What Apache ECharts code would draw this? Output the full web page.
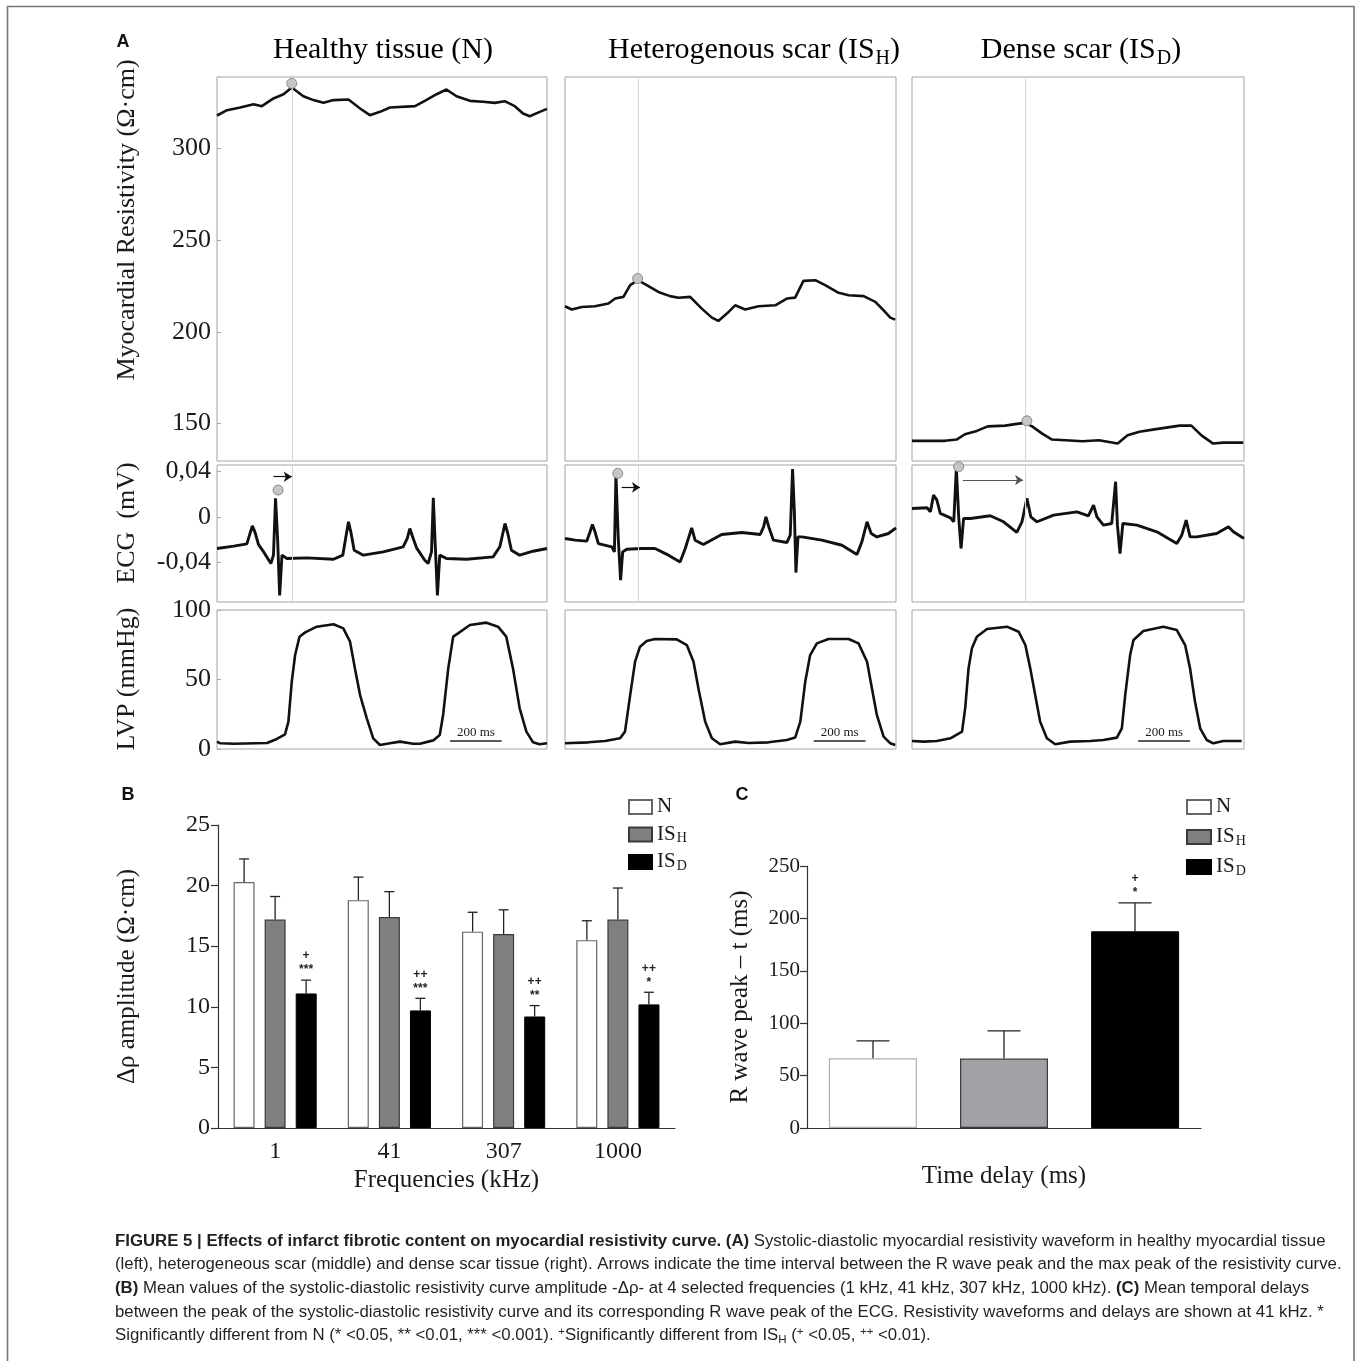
<!DOCTYPE html>
<html>
<head>
<meta charset="utf-8">
<title>Figure 5</title>
<script src="https://cdn.jsdelivr.net/npm/echarts@6/dist/echarts.min.js"></script>
<style>
html, body { margin: 0; padding: 0; background: #fff; }
#chart { width: 1357px; height: 1361px; }
</style>
</head>
<body>
<div id="chart"></div>
<script>
// ---- panel A waveforms, [time (ms), value] ----
var resN = [[0,318.0],[39,320.9],[90,322.4],[142,324.2],[174,323.1],[219,327.3],[258,329.6],[290,333.3],[335,328.5],[374,326.4],[413,324.9],[452,326.4],[510,326.7],[555,321.8],[593,318.2],[632,320.0],[671,322.4],[768,323.1],[806,326.0],[852,329.6],[890,332.2],[929,328.5],[981,326.0],[1032,325.5],[1077,324.9],[1116,325.8],[1155,323.1],[1187,319.1],[1213,317.6],[1252,320.0],[1280,321.6]];
var resH = [[0,214.0],[26,212.2],[65,213.6],[116,214.0],[168,215.5],[194,218.2],[226,219.1],[252,225.5],[281,228.2],[316,225.5],[361,221.8],[406,219.5],[439,218.6],[484,219.1],[529,212.7],[568,207.8],[593,206.0],[626,210.0],[658,214.5],[697,212.2],[748,214.0],[813,214.5],[858,218.2],[890,218.7],[922,227.8],[968,228.2],[1006,225.5],[1058,221.3],[1097,220.0],[1155,219.5],[1200,216.4],[1232,211.8],[1258,207.8],[1277,206.7]];
var resD = [[0,140.6],[127,140.6],[172,141.3],[204,144.2],[250,146.0],[292,148.5],[359,148.9],[411,150.0],[437,150.4],[463,148.5],[502,144.5],[540,141.3],[592,140.9],[657,140.4],[721,140.9],[793,139.1],[831,143.6],[877,145.5],[928,146.7],[980,147.8],[1032,148.9],[1077,148.9],[1116,143.6],[1161,139.1],[1200,139.6],[1277,139.6]];

var ecgN = [[0,-0.0281],[65,-0.0260],[116,-0.0240],[126,-0.0163],[137,-0.0080],[147,-0.0133],[161,-0.0246],[181,-0.0311],[209,-0.0414],[219,-0.0340],[227,0.0163],[235,-0.0192],[243,-0.0696],[252,-0.0340],[271,-0.0370],[348,-0.0364],[452,-0.0376],[488,-0.0340],[501,-0.0163],[510,-0.0044],[519,-0.0133],[532,-0.0296],[568,-0.0340],[645,-0.0311],[722,-0.0266],[738,-0.0192],[748,-0.0104],[761,-0.0192],[774,-0.0275],[806,-0.0385],[819,-0.0414],[832,-0.0311],[839,0.0169],[846,-0.0222],[855,-0.0696],[864,-0.0340],[890,-0.0370],[968,-0.0376],[1071,-0.0355],[1097,-0.0266],[1110,-0.0133],[1117,-0.0059],[1128,-0.0148],[1142,-0.0296],[1174,-0.0340],[1226,-0.0305],[1280,-0.0281]];
var ecgH = [[0,-0.0192],[39,-0.0207],[84,-0.0216],[97,-0.0133],[106,-0.0068],[116,-0.0133],[129,-0.0237],[181,-0.0266],[191,-0.0311],[197,0.0370],[206,-0.0192],[215,-0.0562],[223,-0.0311],[239,-0.0287],[297,-0.0281],[348,-0.0281],[400,-0.0340],[445,-0.0400],[465,-0.0281],[490,-0.0098],[503,-0.0207],[535,-0.0246],[606,-0.0157],[684,-0.0139],[755,-0.0157],[768,-0.0089],[777,0.0000],[790,-0.0104],[806,-0.0207],[858,-0.0228],[871,-0.0163],[880,0.0423],[887,0.0044],[893,-0.0494],[901,-0.0178],[916,-0.0178],[993,-0.0207],[1071,-0.0252],[1129,-0.0334],[1148,-0.0222],[1168,-0.0044],[1184,-0.0148],[1206,-0.0178],[1251,-0.0148],[1280,-0.0098]];
var ecgD = [[0,0.0074],[58,0.0080],[71,0.0044],[83,0.0192],[96,0.0148],[109,0.0030],[148,-0.0009],[161,-0.0044],[171,0.0429],[180,0.0000],[189,-0.0281],[199,-0.0015],[225,-0.0015],[302,0.0009],[353,-0.0044],[404,-0.0139],[424,-0.0044],[443,0.0163],[458,0.0000],[482,-0.0044],[546,0.0015],[636,0.0044],[680,0.0009],[700,0.0104],[713,0.0000],[738,-0.0074],[770,-0.0059],[785,0.0311],[792,-0.0074],[802,-0.0326],[813,-0.0059],[867,-0.0074],[944,-0.0133],[1021,-0.0237],[1040,-0.0163],[1057,-0.0030],[1072,-0.0178],[1098,-0.0178],[1175,-0.0148],[1220,-0.0089],[1239,-0.0133],[1280,-0.0192]];

var lvpN = [[0,5.3],[13,4.1],[65,3.8],[194,4.3],[232,7.2],[264,10.6],[277,19.7],[290,48.4],[303,67.6],[320,80.8],[342,83.9],[387,88.0],[452,89.7],[490,86.8],[516,77.2],[535,58.0],[555,38.8],[581,22.1],[606,7.7],[632,2.9],[671,4.1],[710,5.3],[761,3.8],[787,3.8],[839,6.2],[864,10.1],[877,24.5],[897,58.0],[916,80.8],[935,83.2],[981,89.2],[1045,90.9],[1090,88.0],[1122,80.8],[1148,58.0],[1174,29.3],[1200,12.5],[1226,4.8],[1251,3.4],[1280,4.1]];
var lvpH = [[0,4.1],[90,4.8],[155,5.8],[213,7.7],[232,12.5],[252,38.8],[271,62.8],[290,73.6],[316,77.7],[348,79.1],[432,78.9],[471,74.8],[497,62.8],[516,43.6],[542,19.7],[568,7.7],[600,3.4],[658,5.3],[710,4.3],[787,4.8],[858,6.5],[890,8.2],[910,19.7],[929,48.4],[948,67.6],[974,76.0],[1019,79.1],[1097,79.1],[1135,76.0],[1168,62.8],[1187,43.6],[1206,24.5],[1232,8.9],[1258,4.1],[1277,2.9]];
var lvpD = [[0,5.8],[45,5.3],[96,5.8],[148,7.7],[193,12.5],[205,29.3],[218,58.0],[231,72.4],[250,80.8],[289,86.3],[366,88.0],[411,84.4],[437,74.8],[456,58.0],[475,38.8],[494,19.7],[520,7.7],[552,3.4],[610,5.3],[687,5.8],[738,6.5],[790,8.2],[809,14.9],[822,38.8],[841,67.6],[854,78.4],[892,84.9],[969,88.0],[1021,85.6],[1053,74.8],[1072,58.0],[1091,34.1],[1111,14.9],[1136,6.5],[1162,4.1],[1200,5.8],[1271,5.8]];

// peak markers, peak time lines, R-to-peak arrows, 200 ms scale bars
var peakTime = [293, 284, 437];
var peakRes = [[290, 335.5], [281, 229.1], [443, 151.5]];
var peakEcg = [[237, 0.0237], [204, 0.0385], [180, 0.0444]];
var arrowEcg = [[219, 290, 0.0355], [219, 290, 0.026], [196, 428, 0.0326]];
var scaleBar = [[904, 1104], [962, 1162], [872, 1072]];

// ---- panel B ----
var freqs = ['1', '41', '307', '1000'];
var ampN = [20.3, 18.8, 16.2, 15.5];
var ampH = [17.2, 17.4, 16.0, 17.2];
var ampD = [11.1, 9.7, 9.2, 10.2];
var sdN = [1.9, 1.9, 1.6, 1.6];
var sdH = [1.9, 2.1, 2.0, 2.6];
var sdD = [1.1, 1.0, 0.9, 1.0];
var sigB = ['+\n***', '++\n***', '++\n**', '++\n*'];

// ---- panel C ----
var delayCat = ['Time delay (ms)'];
var delayN = [66.5], delayH = [66.2], delayD = [187.7];
var delaySdN = [16.6], delaySdH = [26.5], delaySdD = [27.1];
var sigC = ['+\n*'];

var SERIF = '"Liberation Serif", "Times New Roman", serif';
var SANS = '"Liberation Sans", Arial, sans-serif';
var NARROW = '"Liberation Sans Narrow", "Liberation Sans", Arial, sans-serif';
var INK = '#1a1a1a';

var myChart = echarts.init(document.getElementById('chart'), null, {renderer: 'canvas'});

var colLeft = [217, 565, 912];
var colWidth = [330, 331, 332];
var rows = [
	{top: 77, height: 384, min: 129.6, max: 339, ticks: [150, 200, 250, 300], waves: [resN, resH, resD], lw: 2.6},
	{top: 465, height: 137, min: -0.0755, max: 0.0459, ticks: [-0.04, 0, 0.04], waves: [ecgN, ecgH, ecgD], lw: 2.9},
	{top: 610, height: 139, min: 0, max: 100, ticks: [0, 50, 100], waves: [lvpN, lvpH, lvpD], lw: 2.6}
];

function fmtTick(v) {
	if (Math.abs(v) < 1e-9) return '0';
	if (Math.abs(v) < 1) return (v < 0 ? '-' : '') + Math.abs(v).toFixed(2).replace('.', ',');
	return String(v);
}

var grids = [], xAxes = [], yAxes = [], series = [];

rows.forEach(function (row, r) {
	for (var c = 0; c < 3; c++) {
		var idx = grids.length;
		grids.push({left: colLeft[c], top: row.top, width: colWidth[c], height: row.height,
			show: true, borderColor: '#a3a3a3', borderWidth: 1, backgroundColor: 'transparent'});
		xAxes.push({type: 'value', gridIndex: idx, min: 0, max: 1280, show: false});
		yAxes.push({
			type: 'value', gridIndex: idx, min: row.min, max: row.max,
			axisLine: {show: false},
			splitLine: {show: false},
			axisTick: {show: c === 0, inside: true, length: 4, lineStyle: {color: '#aaa'}, customValues: row.ticks},
			axisLabel: {show: c === 0, customValues: row.ticks, formatter: fmtTick,
				fontFamily: SERIF, fontSize: 26, color: INK, margin: 6}
		});
		var line = {
			type: 'line', xAxisIndex: idx, yAxisIndex: idx, data: row.waves[c],
			symbol: 'none', silent: true, animation: false, z: 3,
			lineStyle: {color: '#111', width: row.lw}
		};
		if (r < 2) {
			line.markLine = {
				silent: true, animation: false, symbol: ['none', 'none'], label: {show: false},
				lineStyle: {color: '#d6d6d6', width: 1, type: 'solid'},
				data: [{xAxis: peakTime[c]}]
			};
		} else {
			line.markLine = {
				silent: true, animation: false, symbol: ['none', 'none'],
				lineStyle: {color: '#222', width: 1.6, type: 'solid'},
				label: {show: true, formatter: '200 ms', position: 'insideMiddleTop', distance: 2,
					fontFamily: SERIF, fontSize: 13, color: INK},
				data: [[{coord: [scaleBar[c][0], 6]}, {coord: [scaleBar[c][1], 6]}]]
			};
		}
		series.push(line);
		if (r < 2) {
			var mark = {
				type: 'scatter', xAxisIndex: idx, yAxisIndex: idx, silent: true, animation: false, z: 6,
				data: [r === 0 ? peakRes[c] : peakEcg[c]], symbolSize: 10,
				itemStyle: {color: '#c6c6c6', borderColor: '#8a8a8a', borderWidth: 1, opacity: 1}
			};
			if (r === 1) {
				var a = arrowEcg[c];
				mark.markLine = {
					silent: true, animation: false, symbol: ['none', 'arrow'], symbolSize: 8,
					label: {show: false},
					lineStyle: {color: c === 2 ? '#555' : '#111', width: 1.2, type: 'solid'},
					data: [[{coord: [a[0], a[2]]}, {coord: [a[1], a[2]]}]]
				};
			}
			series.push(mark);
		}
	}
});

// panel B (grid 9) and panel C (grid 10)
grids.push({left: 218, top: 825, width: 457, height: 303});
grids.push({left: 807, top: 866, width: 394, height: 262});

var axisInk = {color: '#333', width: 1.2};
xAxes.push({
	type: 'category', gridIndex: 9, data: freqs,
	axisLine: {lineStyle: axisInk},
	axisTick: {alignWithLabel: true, length: 8, lineStyle: axisInk},
	axisLabel: {fontFamily: SERIF, fontSize: 24, color: INK, margin: 12},
	name: 'Frequencies (kHz)', nameLocation: 'middle', nameGap: 40,
	nameTextStyle: {fontFamily: SERIF, fontSize: 25, color: INK}
});
yAxes.push({
	type: 'value', gridIndex: 9, min: 0, max: 25, interval: 5,
	axisLine: {show: true, lineStyle: axisInk},
	axisTick: {show: true, length: 7, lineStyle: axisInk},
	splitLine: {show: false},
	axisLabel: {fontFamily: SERIF, fontSize: 24, color: INK, margin: 8},
	name: 'Δρ amplitude (Ω·cm)', nameLocation: 'middle', nameRotate: 90, nameGap: 78,
	nameTextStyle: {fontFamily: SERIF, fontSize: 25, color: INK}
});
xAxes.push({
	type: 'category', gridIndex: 10, data: delayCat,
	axisLine: {lineStyle: axisInk},
	axisTick: {alignWithLabel: true, length: 8, lineStyle: axisInk},
	axisLabel: {fontFamily: SERIF, fontSize: 25, color: INK, margin: 36}
});
yAxes.push({
	type: 'value', gridIndex: 10, min: 0, max: 250, interval: 50,
	axisLine: {show: true, lineStyle: axisInk},
	axisTick: {show: true, length: 7, lineStyle: axisInk},
	splitLine: {show: false},
	axisLabel: {fontFamily: SERIF, fontSize: 21, color: INK, margin: 7},
	name: 'R wave peak – t (ms)', nameLocation: 'middle', nameRotate: 90, nameGap: 54,
	nameTextStyle: {fontFamily: SERIF, fontSize: 25, color: INK}
});

var styleN = {color: '#ffffff', borderColor: '#666', borderWidth: 1.2};
var styleH = {color: '#808080', borderColor: '#3a3a3a', borderWidth: 1.2};
var styleD = {color: '#000000', borderColor: '#000', borderWidth: 1};

function bar(name, data, gi, width, gap, style) {
	return {type: 'bar', name: name, xAxisIndex: gi, yAxisIndex: gi, data: data,
		barWidth: width, barGap: gap, itemStyle: style, silent: true, animation: false, z: 2};
}

// upward error bars drawn from the bar top, with the significance marks above
function errBars(means, sds, gi, offset, cap, sig) {
	return {
		type: 'custom', xAxisIndex: gi, yAxisIndex: gi, silent: true, animation: false, z: 5,
		data: means.map(function (m, i) { return [i, m, m + sds[i]]; }),
		renderItem: function (params, api) {
			var base = api.coord([api.value(0), api.value(1)]);
			var top = api.coord([api.value(0), api.value(2)]);
			var x = base[0] + offset;
			var ink = {stroke: '#222', lineWidth: 1.3};
			var kids = [
				{type: 'line', shape: {x1: x, y1: base[1], x2: x, y2: top[1]}, style: ink},
				{type: 'line', shape: {x1: x - cap / 2, y1: top[1], x2: x + cap / 2, y2: top[1]}, style: ink}
			];
			if (sig && sig[params.dataIndex]) {
				kids.push({type: 'text', x: x, y: top[1] - 3, style: {
					text: sig[params.dataIndex], align: 'center', verticalAlign: 'bottom',
					fontFamily: SANS, fontWeight: 'bold', fontSize: 12, lineHeight: 14, fill: '#222'}});
			}
			return {type: 'group', children: kids};
		}
	};
}

series.push(bar('N', ampN, 9, 21, '48%', styleN));
series.push(bar('IS_H', ampH, 9, 21, '48%', styleH));
series.push(bar('IS_D', ampD, 9, 21, '48%', styleD));
series.push(errBars(ampN, sdN, 9, -31, 10, null));
series.push(errBars(ampH, sdH, 9, 0, 10, null));
series.push(errBars(ampD, sdD, 9, 31, 10, sigB));

series.push(bar('N', delayN, 10, 88, '49%', {color: '#ffffff', borderColor: '#b0b0b0', borderWidth: 1.2}));
series.push(bar('IS_H', delayH, 10, 88, '49%', {color: '#a2a2a6', borderColor: '#3a3a3a', borderWidth: 1.2}));
series.push(bar('IS_D', delayD, 10, 88, '49%', styleD));
series.push(errBars(delayN, delaySdN, 10, -131, 33, null));
series.push(errBars(delayH, delaySdH, 10, 0, 33, null));
series.push(errBars(delayD, delaySdD, 10, 131, 33, sigC));

var richLegend = {
	m: {fontFamily: SERIF, fontSize: 21, lineHeight: 22, verticalAlign: 'top', color: INK},
	s: {fontFamily: SERIF, fontSize: 14, lineHeight: 14, verticalAlign: 'bottom', padding: [12, 0, 0, 1], color: INK}
};
function legendFmt(name) {
	if (name === 'N') return '{m|N}{s| }';
	return '{m|IS}{s|' + name.slice(3) + '}';
}
function legend(left, gap, w) {
	return {data: ['N', 'IS_H', 'IS_D'], left: left, top: 792, padding: 0, orient: 'vertical',
		itemWidth: w, itemHeight: 14, itemGap: gap, itemTextGap: 7, icon: 'rect', selectedMode: false,
		formatter: legendFmt, textStyle: {rich: richLegend}};
}

var richTitle = {
	m: {fontFamily: SERIF, fontSize: 30, lineHeight: 34, verticalAlign: 'top', color: INK},
	s: {fontFamily: SERIF, fontSize: 20, lineHeight: 20, verticalAlign: 'bottom', padding: [18, 0, 0, 1], color: INK}
};
function title(x, text) {
	return {type: 'text', x: x, y: 35, style: {text: text, rich: richTitle, align: 'center', verticalAlign: 'top'}};
}
function sideLabel(x, y, text) {
	return {type: 'text', x: x, y: y, rotation: Math.PI / 2, style: {
		text: text, align: 'center', verticalAlign: 'middle', fontFamily: SERIF, fontSize: 26, fill: INK}};
}
function letter(x, y, t) {
	return {type: 'text', x: x, y: y, style: {text: t, align: 'center', verticalAlign: 'middle',
		fontFamily: SANS, fontWeight: 'bold', fontSize: 18, fill: '#111'}};
}

var CAP = 16.8;
var richCap = {
	b: {fontFamily: NARROW, fontWeight: 'bold', fontSize: CAP, lineHeight: 19, fill: '#231f20'},
	p: {fontFamily: NARROW, fontSize: 11.5, lineHeight: 11, padding: [0, 0, 8, 0], fill: '#231f20'},
	d: {fontFamily: NARROW, fontSize: 11.5, lineHeight: 11, padding: [8, 0, 0, 0], fill: '#231f20'}
};
var captionLines = [
	'{b|FIGURE 5 | Effects of infarct fibrotic content on myocardial resistivity curve. (A)} Systolic-diastolic myocardial resistivity waveform in healthy myocardial tissue',
	'(left), heterogeneous scar (middle) and dense scar tissue (right). Arrows indicate the time interval between the R wave peak and the max peak of the resistivity curve.',
	'{b|(B)} Mean values of the systolic-diastolic resistivity curve amplitude -Δρ- at 4 selected frequencies (1 kHz, 41 kHz, 307 kHz, 1000 kHz). {b|(C)} Mean temporal delays',
	'between the peak of the systolic-diastolic resistivity curve and its corresponding R wave peak of the ECG. Resistivity waveforms and delays are shown at 41 kHz. *',
	'Significantly different from N (* <0.05, ** <0.01, *** <0.001). {p|+}Significantly different from IS{d|H} ({p|+} <0.05, {p|++} <0.01).'
];

var graphics = [
	{type: 'rect', shape: {x: 7.5, y: 6.5, width: 1346.5, height: 1400}, style: {fill: 'none', stroke: '#777', lineWidth: 1.6}, silent: true},
	letter(123, 42, 'A'), letter(128, 795, 'B'), letter(742, 795, 'C'),
	title(383, '{m|Healthy tissue (N)}'),
	title(754, '{m|Heterogenous scar (IS}{s|H}{m|)}'),
	title(1081, '{m|Dense scar (IS}{s|D}{m|)}'),
	sideLabel(127, 220, 'Myocardial Resistivity (Ω·cm)'),
	sideLabel(127, 523, 'ECG  (mV)'),
	sideLabel(127, 679, 'LVP (mmHg)')
];
captionLines.forEach(function (t, i) {
	graphics.push({type: 'text', x: 115, y: 1241 + i * 23.7, silent: true, style: {
		text: t, rich: richCap, align: 'left', verticalAlign: 'middle',
		fontFamily: NARROW, fontSize: CAP, lineHeight: 19, fill: '#231f20'}});
});

option = {
	backgroundColor: '#ffffff',
	animation: false,
	grid: grids,
	xAxis: xAxes,
	yAxis: yAxes,
	legend: [legend(628, 1.5, 23), legend(1186, 4, 24)],
	series: series,
	graphic: graphics
};
myChart.clear();
myChart.setOption(option);
</script>
</body>
</html>
